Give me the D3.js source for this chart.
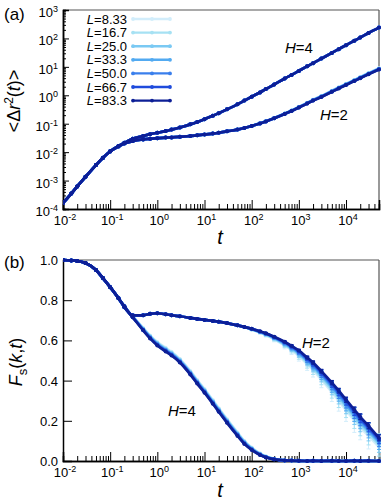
<!DOCTYPE html>
<html>
<head>
<meta charset="utf-8">
<script src="https://cdn.jsdelivr.net/npm/d3@7"></script>
<style>
  body { margin: 0; background: #fff; }
  text { font-family: Arial, "Liberation Sans", sans-serif; fill: #000; }
</style>
</head>
<body>
<div id="chart"></div>
<script>
// box sizes L and their colours (light -> dark)
const sizes = ['8.33', '16.7', '25.0', '33.3', '50.0', '66.7', '83.3'];
const sizeColors = ['#d2edfb', '#a6e1f3', '#7ac9f3', '#52aaf1', '#3a7fec', '#1f4bdc', '#0d1f96'];
// how far each L sits from the largest box (1 = full spread, 0 = none)
const sizeFrac = [1, 0.8, 0.6, 0.45, 0.3, 0.15, 0];

const times = [0.01, 0.015, 0.02, 0.03, 0.05, 0.07,
  0.1, 0.15, 0.2, 0.3, 0.5, 0.7,
  1, 1.5, 2, 3, 5, 7,
  10, 15, 20, 30, 50, 70,
  100, 150, 200, 300, 500, 700,
  1000, 1500, 2000, 3000, 5000, 7000,
  1e4, 1.5e4, 2e4, 3e4, 5e4];

// (a) mean squared displacement
const msdH4 = [1.62e-4, 3.5e-4, 6.2e-4, 1.35e-3, 3.5e-3, 6.3e-3,
  1.07e-2, 1.66e-2, 2.14e-2, 2.95e-2, 3.7e-2, 4.3e-2,
  4.8e-2, 5.5e-2, 6.2e-2, 7.4e-2, 9.5e-2, 0.115,
  0.145, 0.19, 0.235, 0.32, 0.48, 0.65,
  0.89, 1.26, 1.66, 2.4, 3.9, 5.2,
  7.2, 10.5, 13.5, 19.5, 31, 42,
  58, 83, 107, 155, 240];
const msdH2 = [1.62e-4, 3.5e-4, 6.2e-4, 1.35e-3, 3.5e-3, 6.2e-3,
  1.05e-2, 1.58e-2, 2.0e-2, 2.45e-2, 2.8e-2, 2.95e-2,
  3.1e-2, 3.25e-2, 3.3e-2, 3.45e-2, 3.7e-2, 3.9e-2,
  4.2e-2, 4.5e-2, 4.8e-2, 5.4e-2, 6.2e-2, 7.1e-2,
  8.3e-2, 0.102, 0.12, 0.155, 0.22, 0.28,
  0.37, 0.51, 0.65, 0.87, 1.32, 1.74,
  2.3, 3.16, 4.0, 5.5, 8.1];
// relative excess of the smallest box over the largest one
const msdH2Spread = [0, 0, 0, 0, 0, 0,
  0, 0, 0, 0, 0, 0,
  0, 0, 0, 0, 0, 0,
  0, 0, 0, 0, 0, 0,
  0.01, 0.015, 0.02, 0.03, 0.04, 0.05,
  0.06, 0.07, 0.08, 0.09, 0.1, 0.1,
  0.1, 0.1, 0.1, 0.1, 0.1];

// (b) self intermediate scattering function
const fsH2 = [1.0, 0.998, 0.995, 0.985, 0.95, 0.91,
  0.865, 0.81, 0.77, 0.725, 0.725, 0.732,
  0.735, 0.73, 0.725, 0.72, 0.712, 0.707,
  0.702, 0.697, 0.693, 0.686, 0.675, 0.667,
  0.658, 0.645, 0.635, 0.618, 0.593, 0.573,
  0.55, 0.515, 0.49, 0.447, 0.39, 0.35,
  0.305, 0.255, 0.22, 0.175, 0.115];
const fsH4 = [1.0, 0.998, 0.995, 0.985, 0.95, 0.91,
  0.865, 0.81, 0.765, 0.715, 0.65, 0.61,
  0.575, 0.545, 0.525, 0.49, 0.43, 0.385,
  0.34, 0.285, 0.245, 0.19, 0.125, 0.085,
  0.055, 0.03, 0.018, 0.008, 0.003, 0.002,
  0.001, 0, 0.001, 0, 0.001, 0,
  0, 0.001, 0, 0.001, 0];
// drop of the smallest box below the largest one
const fsH2Spread = [0, 0, 0, 0, 0, 0,
  0, 0, 0, 0, 0, 0,
  0, 0, 0, 0, 0, 0,
  0, 0, 0, 0, 0, 0,
  0.004, 0.006, 0.008, 0.012, 0.018, 0.022,
  0.027, 0.033, 0.037, 0.042, 0.047, 0.05,
  0.052, 0.053, 0.052, 0.05, 0.045];
const fsH4Spread = [0, 0, 0, 0, 0, 0,
  0, 0, 0, -0.005, -0.012, -0.015,
  -0.017, -0.018, -0.018, -0.018, -0.018, -0.018,
  -0.018, -0.018, -0.018, -0.018, -0.017, -0.015,
  -0.012, -0.008, -0.005, -0.003, 0, 0,
  0, 0, 0, 0, 0, 0,
  0, 0, 0, 0, 0];
const fsH2Err = [0, 0, 0, 0, 0, 0,
  0, 0, 0, 0, 0, 0,
  0, 0, 0, 0, 0, 0,
  0, 0, 0, 0, 0, 0,
  0.005, 0.006, 0.008, 0.01, 0.013, 0.016,
  0.02, 0.024, 0.027, 0.031, 0.036, 0.04,
  0.043, 0.046, 0.048, 0.05, 0.05];

const width = 381, height = 504;

const svg = d3.select('#chart')
  .append('svg')
  .attr('width', width)
  .attr('height', height);

const x = d3.scaleLog().domain([1e-2, 5e4]).range([63, 379]);
const yA = d3.scaleLog().domain([1e-4, 1e3]).range([209, 10]);
const yB = d3.scaleLinear().domain([0, 1]).range([461, 260]);

const xMajors = [1e-2, 1e-1, 1e0, 1e1, 1e2, 1e3, 1e4];
const xMinors = [];
for (let e = -2; e <= 4; e++) for (let m = 2; m <= 9; m++) {
  const v = m * Math.pow(10, e);
  if (v <= 5e4) xMinors.push(v);
}
const yAMajors = [1e-4, 1e-3, 1e-2, 1e-1, 1e0, 1e1, 1e2, 1e3];
const yAMinors = [];
for (let e = -4; e <= 2; e++) for (let m = 2; m <= 9; m++) yAMinors.push(m * Math.pow(10, e));
const yBTicks = [0, 0.2, 0.4, 0.6, 0.8, 1.0];

function sup(sel, exp) {
  sel.append('tspan').text('10');
  sel.append('tspan').attr('dy', -5).style('font-size', '9px').text(exp);
}

function frame(y0, y1) {
  // thin grey top/right, black left/bottom
  svg.append('line').attr('x1', 63).attr('x2', 379).attr('y1', y0).attr('y2', y0)
    .attr('stroke', '#555').attr('stroke-width', 1.2);
  svg.append('line').attr('x1', 379).attr('x2', 379).attr('y1', y0).attr('y2', y1)
    .attr('stroke', '#555').attr('stroke-width', 1.2);
}

function xAxis(yPos, labelY) {
  const gMaj = svg.append('g').attr('transform', `translate(0,${yPos})`)
    .call(d3.axisBottom(x).tickValues(xMajors).tickSize(-9).tickFormat(''));
  const gMin = svg.append('g').attr('transform', `translate(0,${yPos})`)
    .call(d3.axisBottom(x).tickValues(xMinors).tickSize(-5).tickFormat(''));
  [gMaj, gMin].forEach(g => {
    g.select('.domain').attr('stroke', '#000').attr('stroke-width', 1.5);
    g.selectAll('.tick line').attr('stroke', '#000').attr('stroke-width', 1);
  });
  xMajors.forEach(v => {
    svg.append('text')
      .attr('x', x(v) + 2).attr('y', labelY)
      .attr('text-anchor', 'middle')
      .style('font-size', '13px')
      .call(sup, String(Math.round(Math.log10(v))));
  });
}

// ---------- panel (a) ----------
frame(10, 209);
xAxis(209, 225);
const gYA = svg.append('g').attr('transform', 'translate(63,0)')
  .call(d3.axisLeft(yA).tickValues(yAMajors).tickSize(-6).tickFormat(''));
const gYAm = svg.append('g').attr('transform', 'translate(63,0)')
  .call(d3.axisLeft(yA).tickValues(yAMinors).tickSize(-3).tickFormat(''));
[gYA, gYAm].forEach(g => {
  g.select('.domain').attr('stroke', '#000').attr('stroke-width', 1.5);
  g.selectAll('.tick line').attr('stroke', '#000').attr('stroke-width', 1);
});
yAMajors.forEach(v => {
  svg.append('text')
    .attr('x', 58).attr('y', yA(v) + 7)
    .attr('text-anchor', 'end')
    .style('font-size', '13px')
    .call(sup, String(Math.round(Math.log10(v))));
});

// ---------- panel (b) ----------
frame(260, 461);
xAxis(461, 477);
const gYB = svg.append('g').attr('transform', 'translate(63,0)')
  .call(d3.axisLeft(yB).tickValues(yBTicks).tickSize(-9).tickFormat(''));
gYB.select('.domain').attr('stroke', '#000').attr('stroke-width', 1.5);
gYB.selectAll('.tick line').attr('stroke', '#000').attr('stroke-width', 1);
yBTicks.forEach(v => {
  svg.append('text')
    .attr('x', 58).attr('y', yB(v) + 5)
    .attr('text-anchor', 'end')
    .style('font-size', '13px')
    .text(d3.format('.1f')(v));
});

// clip paths
const defs = svg.append('defs');
defs.append('clipPath').attr('id', 'clipA')
  .append('rect').attr('x', 63).attr('y', 10).attr('width', 318).attr('height', 201);
defs.append('clipPath').attr('id', 'clipB')
  .append('rect').attr('x', 63).attr('y', 255).attr('width', 318).attr('height', 209);

function drawSeries(g, yScale, data, color, errs) {
  const line = d3.line().x(d => x(d.t)).y(d => yScale(d.v)).curve(d3.curveMonotoneX);
  if (errs) {
    g.selectAll(null).data(data.filter(d => d.e > 0)).enter().append('g')
      .each(function (d) {
        const s = d3.select(this);
        const ya = yScale(d.v - d.e), yb = yScale(d.v + d.e);
        s.append('line').attr('x1', x(d.t)).attr('x2', x(d.t)).attr('y1', ya).attr('y2', yb)
          .attr('stroke', color).attr('stroke-width', 1);
        [ya, yb].forEach(yy => s.append('line')
          .attr('x1', x(d.t) - 2).attr('x2', x(d.t) + 2).attr('y1', yy).attr('y2', yy)
          .attr('stroke', color).attr('stroke-width', 1));
      });
  }
  g.append('path').datum(data)
    .attr('d', line)
    .attr('fill', 'none')
    .attr('stroke', color)
    .attr('stroke-width', 2.7);
  g.selectAll(null).data(data).enter().append('circle')
    .attr('cx', d => x(d.t)).attr('cy', d => yScale(d.v))
    .attr('r', 2).attr('fill', color);
}

const plotA = svg.append('g').attr('clip-path', 'url(#clipA)');
const plotB = svg.append('g').attr('clip-path', 'url(#clipB)');

sizes.forEach((L, k) => {
  const f = sizeFrac[k], c = sizeColors[k];
  drawSeries(plotA, yA, times.map((t, i) => ({ t, v: msdH4[i] })), c);
  drawSeries(plotA, yA, times.map((t, i) => ({ t, v: msdH2[i] * (1 + msdH2Spread[i] * f) })), c);
  drawSeries(plotB, yB, times.map((t, i) => ({ t, v: fsH4[i] - fsH4Spread[i] * f })), c);
  drawSeries(plotB, yB, times.map((t, i) => ({ t, v: fsH2[i] - fsH2Spread[i] * f, e: fsH2Err[i] * (0.3 + f) })), c, true);
});

// legend
const legend = svg.append('g');
sizes.forEach((L, k) => {
  const ly = 19 + k * 13.6;
  const t = legend.append('text').attr('x', 127).attr('y', ly + 4.5)
    .attr('text-anchor', 'end').style('font-size', '13px');
  t.append('tspan').style('font-style', 'italic').text('L');
  t.append('tspan').text('=' + L);
  legend.append('line').attr('x1', 133).attr('x2', 171).attr('y1', ly).attr('y2', ly)
    .attr('stroke', sizeColors[k]).attr('stroke-width', 2.4);
  [133, 152, 170].forEach(cx => legend.append('circle')
    .attr('cx', cx).attr('cy', ly).attr('r', 1.9).attr('fill', sizeColors[k]));
});

// curve labels
function hLabel(px, py, val) {
  const t = svg.append('text').attr('x', px).attr('y', py).style('font-size', '15px');
  t.append('tspan').style('font-style', 'italic').text('H');
  t.append('tspan').text('=' + val);
}
hLabel(285, 53, 4);
hLabel(320, 120, 2);
hLabel(302, 348, 2);
hLabel(168, 416, 4);

// panel tags
svg.append('text').attr('x', 4).attr('y', 20).style('font-size', '17px').text('(a)');
svg.append('text').attr('x', 4).attr('y', 268).style('font-size', '17px').text('(b)');

// axis titles
['244', '497'].forEach(yy => svg.append('text')
  .attr('x', 220).attr('y', +yy).attr('text-anchor', 'middle')
  .style('font-size', '20px').style('font-style', 'italic').text('t'));

const tA = svg.append('text')
  .attr('transform', 'translate(20,101) rotate(-90)')
  .attr('text-anchor', 'middle').style('font-size', '18px');
tA.append('tspan').text('<Δ');
tA.append('tspan').style('font-style', 'italic').text('r');
tA.append('tspan').attr('dy', -7).style('font-size', '12px').text('2');
tA.append('tspan').attr('dy', 7).text('(');
tA.append('tspan').style('font-style', 'italic').text('t');
tA.append('tspan').text(')>');

const tB = svg.append('text')
  .attr('transform', 'translate(22,362) rotate(-90)')
  .attr('text-anchor', 'middle').style('font-size', '18px');
tB.append('tspan').style('font-style', 'italic').text('F');
tB.append('tspan').attr('dy', 5).style('font-size', '13px').text('s');
tB.append('tspan').attr('dy', -5).text('(');
tB.append('tspan').style('font-style', 'italic').text('k');
tB.append('tspan').text(',');
tB.append('tspan').style('font-style', 'italic').text('t');
tB.append('tspan').text(')');
</script>
</body>
</html>
